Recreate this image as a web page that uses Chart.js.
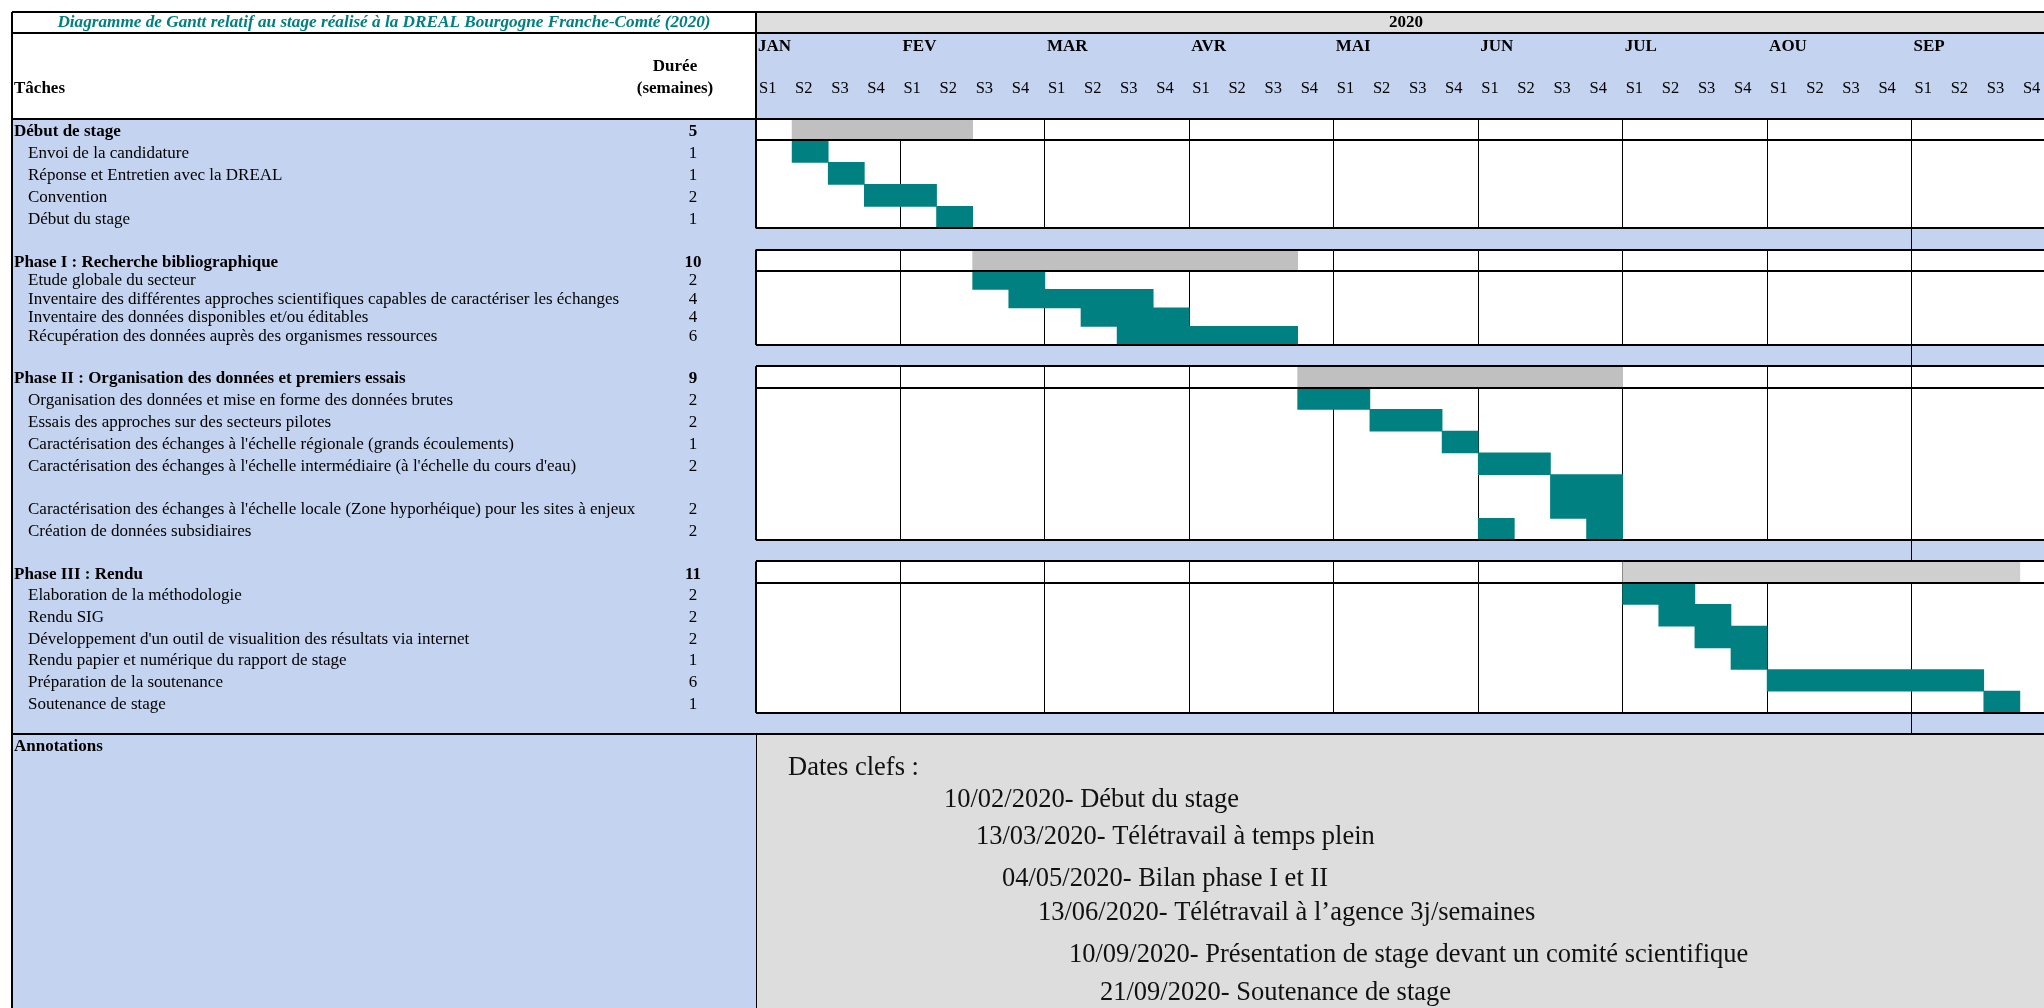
<!DOCTYPE html>
<html lang="fr">
<head>
<meta charset="utf-8">
<title>Diagramme de Gantt - stage DREAL 2020</title>
<script src="https://cdn.jsdelivr.net/npm/chart.js@4.4.1/dist/chart.umd.min.js"></script>
<style>
  html, body { margin: 0; padding: 0; overflow: hidden; background: #fff; }
  #wrap { width: 2056px; height: 1008px; }
</style>
</head>
<body>
<div id="wrap"><canvas id="gantt" width="2056" height="1008"></canvas></div>
<script>
// ---- data ----
const chartTitle = 'Diagramme de Gantt relatif au stage réalisé à la DREAL Bourgogne Franche-Comté (2020)'
const year = '2020'
const months = ['JAN', 'FEV', 'MAR', 'AVR', 'MAI', 'JUN', 'JUL', 'AOU', 'SEP']
const weekNames = ['S1', 'S2', 'S3', 'S4']

const phaseNames = [
    'Début de stage',
    'Phase I : Recherche bibliographique',
    'Phase II : Organisation des données et premiers essais',
    'Phase III : Rendu'
]
const phaseWeeks = [5, 10, 9, 11]
const phaseSpans = [[1, 6], [6, 15], [15, 24], [24, 35]]   // in weeks from 1st of january

const taskNames = [
    'Envoi de la candidature',
    'Réponse et Entretien avec la DREAL',
    'Convention',
    'Début du stage',
    'Etude globale du secteur',
    'Inventaire des différentes approches scientifiques capables de caractériser les échanges',
    'Inventaire des données disponibles et/ou éditables',
    'Récupération des données auprès des organismes ressources',
    'Organisation des données et mise en forme des données brutes',
    'Essais des approches sur des secteurs pilotes',
    "Caractérisation des échanges à l'échelle régionale (grands écoulements)",
    "Caractérisation des échanges à l'échelle intermédiaire (à l'échelle du cours d'eau)",
    "Caractérisation des échanges à l'échelle locale (Zone hyporhéique) pour les sites à enjeux",
    'Création de données subsidiaires',
    'Elaboration de la méthodologie',
    'Rendu SIG',
    "Développement d'un outil de visualition des résultats via internet",
    'Rendu papier et numérique du rapport de stage',
    'Préparation de la soutenance',
    'Soutenance de stage'
]
const taskPhase = [0, 0, 0, 0, 1, 1, 1, 1, 2, 2, 2, 2, 2, 2, 3, 3, 3, 3, 3, 3]
const taskWeeks = [1, 1, 2, 1, 2, 4, 4, 6, 2, 2, 1, 2, 2, 2, 2, 2, 2, 1, 6, 1]
const taskSpans = [
    [[1, 2]], [[2, 3]], [[3, 5]], [[5, 6]],
    [[6, 8]], [[7, 11]], [[9, 12]], [[10, 15]],
    [[15, 17]], [[17, 19]], [[19, 20]], [[20, 22]], [[22, 24]], [[20, 21], [23, 24]],
    [[24, 26]], [[25, 27]], [[26, 28]], [[27, 28]], [[28, 34]], [[34, 35]]
]

const notesTitle = 'Dates clefs :'
const keyDates = [
    '10/02/2020- Début du stage',
    '13/03/2020- Télétravail à temps plein',
    '04/05/2020- Bilan phase I et II',
    '13/06/2020- Télétravail à l’agence 3j/semaines',
    '10/09/2020- Présentation de stage devant un comité scientifique',
    '21/09/2020- Soutenance de stage'
]

// ---- layout / style ----
const PAGE_H = 1008
const TOP = 12, TITLE_BOTTOM = 33, HEAD_BOTTOM = 119, LEFT = 12, SPLIT = 756
const PHASE_H = 21.3, GAP_H = 21.3
const rowH = [22, 18.5, 21.8, 21.7]
const tallRows = [12]
const noteX = [788, 944, 976, 1002, 1038, 1069, 1100]
const noteY = [768, 800, 837, 879, 913, 955, 993]
const BLUE = '#c4d3ef', TEAL = '#008080', TITLE_GREY = '#dedede', NOTE_GREY = '#dddddd'
const spanColors = ['#c0c0c0', '#c0c0c0', '#c0c0c0', '#d0cfd0']
const SERIF = '"Liberation Serif", "Times New Roman", serif'

// rows of each block
const blocks = [], gaps = [], taskRows = []
let y = HEAD_BOTTOM
phaseNames.forEach((p, i) => {
    const b = {top: y, head: y + PHASE_H}
    y = b.head
    taskNames.forEach((t, j) => {
        if (taskPhase[j] != i) return
        const h = rowH[i] * (tallRows.includes(j) ? 2 : 1)
        taskRows[j] = {top: y, h: h}
        y += h
    })
    b.bottom = y
    blocks.push(b)
    gaps.push({top: y, bottom: y + GAP_H})
    y += GAP_H
})
const noteTop = y

// datasets: grey phase spans, then teal tasks grouped by row height
const datasets = [{
    label: 'Phases',
    data: phaseSpans.map((s, i) => ({x: s, y: blocks[i].top + PHASE_H / 2})),
    backgroundColor: spanColors,
    barThickness: PHASE_H,
    stack: 'g'
}]
const byHeight = new Map()
taskSpans.forEach((spans, j) => {
    const r = taskRows[j]
    if (!byHeight.has(r.h)) byHeight.set(r.h, [])
    spans.forEach(s => byHeight.get(r.h).push({x: s, y: r.top + r.h / 2}))
})
byHeight.forEach((pts, h) => {
    datasets.push({label: 'Tâches', data: pts, backgroundColor: TEAL, barThickness: h, stack: 'g'})
})

function txt(ctx, s, x, y, font, align, color) {
    ctx.font = font
    ctx.textAlign = align || 'left'
    ctx.textBaseline = 'middle'
    ctx.fillStyle = color || '#000'
    ctx.fillText(s, x, y)
}
function hline(ctx, x1, x2, y, w) { ctx.fillStyle = '#000'; ctx.fillRect(x1, Math.round(y - w / 2), x2 - x1, w) }
function vline(ctx, x, y1, y2, w) { ctx.fillStyle = '#000'; ctx.fillRect(Math.round(x - w / 2), y1, w, y2 - y1) }

const ganttTable = {
    id: 'ganttTable',
    beforeDatasetsDraw(chart) {
        const ctx = chart.ctx
        const xs = chart.scales.x, ys = chart.scales.y
        const X = w => xs.getPixelForValue(w)
        const Y = v => ys.getPixelForValue(v)
        const W = chart.width
        const nWeeks = months.length * 4
        ctx.save()
        ctx.fillStyle = '#fff'
        ctx.fillRect(0, 0, W, chart.height)
        ctx.fillStyle = BLUE
        ctx.fillRect(LEFT, TOP, W - LEFT, PAGE_H - TOP)
        ctx.fillStyle = '#fff'
        ctx.fillRect(LEFT, TOP, X(0) - LEFT, HEAD_BOTTOM - TOP)
        ctx.fillStyle = TITLE_GREY
        ctx.fillRect(X(0), TOP, W - X(0), TITLE_BOTTOM - TOP)
        blocks.forEach(b => {
            ctx.fillStyle = '#fff'
            ctx.fillRect(X(0), Y(b.top), X(nWeeks) - X(0), Y(b.bottom) - Y(b.top))
        })
        ctx.fillStyle = NOTE_GREY
        ctx.fillRect(X(0), Y(noteTop), W - X(0), PAGE_H - noteTop)

        // month separators
        blocks.forEach(b => {
            for (let m = 1; m < months.length; m++) vline(ctx, X(m * 4), Y(b.top), Y(b.bottom), 1)
        })
        gaps.forEach(g => vline(ctx, X(32), Y(g.top), Y(g.bottom), 1))
        vline(ctx, X(0), Y(noteTop), PAGE_H, 1)

        const f = '17px ' + SERIF, fb = 'bold 17px ' + SERIF
        txt(ctx, chartTitle, (LEFT + X(0)) / 2, 23, 'italic bold 17.2px ' + SERIF, 'center', TEAL)
        txt(ctx, year, (X(0) + X(nWeeks)) / 2, 23, fb, 'center')
        txt(ctx, 'Tâches', 14, 89, fb)
        txt(ctx, 'Durée', 675, 67, fb, 'center')
        txt(ctx, '(semaines)', 675, 89, fb, 'center')
        months.forEach((m, i) => {
            txt(ctx, m, X(i * 4) + 2, 47, fb)
            weekNames.forEach((s, k) => txt(ctx, s, X(i * 4 + k) + 3, 89, '16.5px ' + SERIF))
        })

        phaseNames.forEach((p, i) => {
            const yy = Y(blocks[i].head) - 8.5
            txt(ctx, p, 14, yy, fb)
            txt(ctx, String(phaseWeeks[i]), 693, yy, fb, 'center')
        })
        taskNames.forEach((t, j) => {
            const r = taskRows[j]
            const yy = Y(r.top + r.h) - 8.5
            txt(ctx, t, 28, yy, f)
            txt(ctx, String(taskWeeks[j]), 693, yy, f, 'center')
        })

        txt(ctx, 'Annotations', 14, noteTop + 12, fb)
        const nf = '26.5px ' + SERIF
        txt(ctx, notesTitle, noteX[0], noteY[0], nf, 'left', '#111')
        keyDates.forEach((d, i) => txt(ctx, d, noteX[i + 1], noteY[i + 1], nf, 'left', '#111'))
        ctx.restore()
    },
    afterDatasetsDraw(chart) {
        const ctx = chart.ctx
        const X = w => chart.scales.x.getPixelForValue(w)
        const Y = v => chart.scales.y.getPixelForValue(v)
        const W = chart.width
        ctx.save()
        hline(ctx, LEFT, W, TOP, 2)
        hline(ctx, LEFT, W, TITLE_BOTTOM, 2)
        hline(ctx, LEFT, W, HEAD_BOTTOM, 2)
        vline(ctx, LEFT, TOP, PAGE_H, 2)
        vline(ctx, X(0), TOP, HEAD_BOTTOM, 2)
        blocks.forEach(b => {
            hline(ctx, X(0), W, Y(b.top), 2)
            hline(ctx, X(0), W, Y(b.head), 2)
            hline(ctx, X(0), W, Y(b.bottom), 2)
            vline(ctx, X(0), Y(b.top), Y(b.bottom), 2)
        })
        hline(ctx, LEFT, W, Y(noteTop), 2)
        ctx.restore()
    }
}

new Chart('gantt', {
    type: 'bar',
    data: {datasets: datasets},
    options: {
        responsive: false,
        animation: false,
        indexAxis: 'y',
        layout: {padding: {left: SPLIT, right: 0, top: 0, bottom: 0}},
        scales: {
            x: {type: 'linear', min: 0, max: months.length * 4, stacked: false, display: false},
            y: {type: 'linear', min: 0, max: PAGE_H, reverse: true, offset: false, display: false}
        },
        plugins: {legend: {display: false}, tooltip: {enabled: false}}
    },
    plugins: [ganttTable]
})
</script>
</body>
</html>
